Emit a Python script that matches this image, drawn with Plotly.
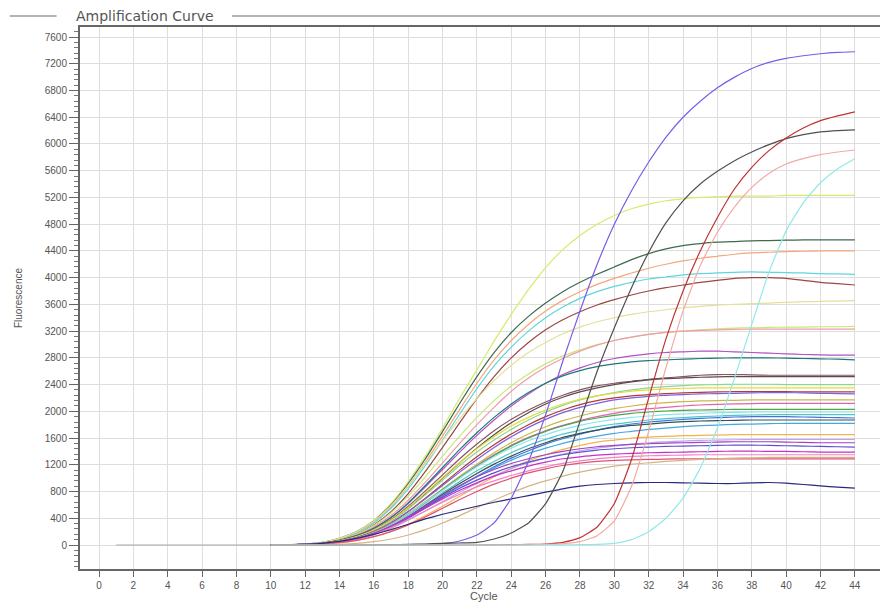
import plotly.graph_objects as go

# ---------------- data ----------------
cycles = [10, 11, 12, 13, 14, 15, 16, 17, 18, 19,
          20, 21, 22, 23, 24, 25, 26, 27, 28, 29,
          30, 31, 32, 33, 34, 35, 36, 37, 38, 39,
          40, 41, 42, 43, 44]
baseline_cycles = [1, 2, 3, 4, 5, 6, 7, 8, 9, 10]
baseline_values = [0, 0, 0, 0, 0, 0, 0, 0, 0, 0]

yellow_green = [0, 5, 15, 40, 100, 200, 370, 620, 950, 1330,
                1750, 2200, 2620, 3050, 3450, 3820, 4150, 4420, 4630, 4800,
                4930, 5030, 5100, 5150, 5180, 5200, 5210, 5220, 5220, 5220,
                5230, 5230, 5230, 5230, 5230]
dark_green = [0, 5, 15, 40, 100, 200, 360, 600, 920, 1290,
              1700, 2120, 2520, 2880, 3180, 3420, 3620, 3790, 3930, 4050,
              4160, 4270, 4360, 4430, 4480, 4510, 4530, 4540, 4550, 4555,
              4560, 4565, 4565, 4565, 4565]
light_orange = [0, 5, 15, 35, 90, 190, 340, 570, 880, 1240,
                1630, 2030, 2420, 2770, 3060, 3300, 3500, 3660, 3790, 3900,
                3990, 4070, 4140, 4200, 4250, 4290, 4320, 4350, 4370, 4380,
                4390, 4395, 4400, 4400, 4400]
cyan_a = [0, 5, 15, 35, 90, 180, 330, 550, 840, 1190,
          1570, 1960, 2340, 2680, 2960, 3200, 3400, 3560, 3690, 3790,
          3870, 3930, 3980, 4010, 4040, 4060, 4070, 4080, 4085, 4080,
          4075, 4070, 4060, 4055, 4050]
red_brown = [0, 5, 12, 30, 80, 160, 300, 500, 770, 1100,
             1460, 1830, 2190, 2520, 2800, 3030, 3220, 3370, 3490, 3590,
             3670, 3740, 3800, 3850, 3890, 3930, 3960, 3990, 4000, 4000,
             3990, 3960, 3930, 3910, 3890]
pale_yellow = [0, 5, 15, 40, 100, 200, 360, 590, 890, 1220,
               1560, 1890, 2190, 2460, 2690, 2880, 3030, 3160, 3260, 3340,
               3400, 3450, 3490, 3520, 3550, 3570, 3590, 3600, 3610, 3620,
               3630, 3640, 3645, 3650, 3655]
green_yellow = [0, 4, 12, 30, 80, 160, 290, 480, 730, 1020,
                1330, 1630, 1910, 2160, 2380, 2560, 2710, 2830, 2920, 3000,
                3060, 3110, 3150, 3180, 3200, 3220, 3235, 3245, 3250, 3255,
                3260, 3260, 3265, 3265, 3270]
pink_a = [0, 4, 12, 30, 75, 150, 270, 440, 670, 940,
          1230, 1520, 1800, 2060, 2300, 2500, 2660, 2790, 2900, 2990,
          3060, 3110, 3150, 3180, 3200, 3210, 3220, 3225, 3230, 3230,
          3230, 3230, 3230, 3230, 3230]
purple_magenta = [0, 4, 10, 28, 70, 140, 250, 410, 620, 870,
                  1130, 1390, 1640, 1870, 2080, 2260, 2420, 2550, 2650, 2730,
                  2790, 2830, 2860, 2880, 2890, 2900, 2900, 2890, 2880, 2870,
                  2860, 2850, 2845, 2840, 2840]
teal = [0, 4, 10, 28, 70, 140, 250, 410, 630, 890,
        1160, 1430, 1680, 1910, 2110, 2280, 2420, 2530, 2610, 2670,
        2710, 2740, 2760, 2770, 2780, 2790, 2795, 2800, 2800, 2800,
        2795, 2790, 2785, 2780, 2770]
mauve = [0, 4, 10, 25, 65, 130, 230, 380, 580, 810,
         1050, 1290, 1510, 1710, 1880, 2020, 2140, 2240, 2320, 2380,
         2420, 2450, 2480, 2500, 2520, 2540, 2550, 2550, 2545, 2540,
         2540, 2540, 2540, 2540, 2540]
dark_gray_brown = [0, 4, 10, 25, 60, 120, 220, 360, 550, 770,
                   1000, 1230, 1450, 1650, 1830, 1980, 2110, 2210, 2290, 2350,
                   2400, 2440, 2470, 2490, 2500, 2510, 2515, 2520, 2520, 2520,
                   2520, 2520, 2520, 2520, 2520]
light_green = [0, 4, 10, 25, 60, 120, 220, 360, 540, 750,
               970, 1190, 1390, 1570, 1730, 1870, 1990, 2090, 2170, 2230,
               2280, 2320, 2350, 2370, 2385, 2395, 2400, 2405, 2405, 2405,
               2400, 2400, 2400, 2400, 2400]
yellow_b = [0, 4, 10, 25, 62, 125, 225, 370, 560, 780,
            1010, 1230, 1440, 1620, 1780, 1910, 2020, 2110, 2180, 2230,
            2270, 2300, 2320, 2335, 2345, 2350, 2350, 2350, 2350, 2350,
            2350, 2350, 2350, 2350, 2350]
dark_red = [0, 3, 9, 22, 55, 110, 200, 330, 500, 700,
            910, 1120, 1320, 1500, 1660, 1800, 1920, 2020, 2100, 2160,
            2200, 2230, 2250, 2265, 2275, 2285, 2290, 2295, 2295, 2295,
            2295, 2290, 2290, 2290, 2290]
violet = [0, 3, 9, 22, 55, 110, 200, 330, 500, 690,
          890, 1090, 1280, 1460, 1620, 1760, 1880, 1980, 2060, 2120,
          2170, 2200, 2225, 2240, 2250, 2260, 2265, 2270, 2275, 2280,
          2280, 2275, 2270, 2265, 2260]
olive_b = [0, 3, 9, 22, 55, 105, 190, 310, 470, 650,
           840, 1030, 1210, 1380, 1530, 1660, 1770, 1860, 1930, 1990,
           2040, 2080, 2110, 2130, 2145, 2155, 2160, 2165, 2170, 2170,
           2170, 2170, 2170, 2170, 2170]
magenta_pink = [0, 3, 8, 20, 50, 100, 180, 300, 450, 630,
                820, 1010, 1190, 1350, 1490, 1610, 1710, 1790, 1860, 1920,
                1970, 2010, 2040, 2060, 2080, 2095, 2105, 2110, 2115, 2120,
                2120, 2120, 2120, 2120, 2120]
green_b = [0, 3, 8, 20, 50, 100, 180, 300, 460, 640,
           830, 1010, 1180, 1340, 1480, 1600, 1700, 1780, 1850, 1900,
           1940, 1970, 1990, 2005, 2015, 2020, 2025, 2030, 2030, 2030,
           2030, 2030, 2030, 2030, 2030]
light_cyan_a = [0, 3, 8, 20, 50, 100, 180, 300, 460, 640,
                820, 1000, 1170, 1320, 1450, 1560, 1650, 1730, 1790, 1840,
                1880, 1910, 1930, 1950, 1960, 1970, 1980, 1985, 1990, 1990,
                1990, 1990, 1990, 1990, 1990]
light_cyan_b = [0, 3, 8, 20, 48, 95, 170, 280, 430, 600,
                780, 950, 1110, 1250, 1380, 1490, 1580, 1660, 1720, 1770,
                1810, 1840, 1870, 1890, 1905, 1920, 1930, 1940, 1945, 1950,
                1950, 1950, 1950, 1950, 1950]
blue_a = [0, 3, 8, 20, 45, 90, 160, 260, 400, 560,
          720, 880, 1030, 1170, 1300, 1410, 1510, 1590, 1660, 1720,
          1770, 1810, 1840, 1860, 1880, 1895, 1905, 1915, 1920, 1920,
          1920, 1915, 1910, 1905, 1900]
dark_slate = [0, 3, 8, 20, 48, 95, 170, 280, 420, 590,
              760, 920, 1070, 1210, 1330, 1440, 1530, 1610, 1670, 1720,
              1760, 1790, 1810, 1830, 1845, 1855, 1860, 1865, 1870, 1870,
              1870, 1870, 1870, 1870, 1870]
sky = [0, 3, 8, 20, 48, 95, 170, 275, 410, 570,
       730, 880, 1020, 1150, 1270, 1370, 1450, 1520, 1580, 1630,
       1670, 1700, 1730, 1750, 1770, 1785, 1795, 1805, 1810, 1815,
       1820, 1820, 1820, 1820, 1820]
orange_b = [0, 2, 6, 15, 35, 70, 125, 205, 310, 440,
            580, 730, 880, 1020, 1150, 1260, 1350, 1430, 1490, 1540,
            1570, 1600, 1615, 1625, 1635, 1640, 1645, 1650, 1650, 1650,
            1650, 1650, 1650, 1650, 1650]
light_purple = [0, 3, 8, 18, 45, 88, 155, 250, 370, 510,
                650, 790, 920, 1040, 1140, 1230, 1300, 1360, 1410, 1450,
                1480, 1510, 1530, 1545, 1555, 1565, 1570, 1575, 1580, 1580,
                1580, 1580, 1580, 1580, 1580]
purple_b = [0, 3, 8, 20, 48, 95, 170, 280, 420, 580,
            740, 890, 1020, 1130, 1220, 1290, 1350, 1400, 1440, 1470,
            1490, 1505, 1515, 1525, 1530, 1535, 1540, 1545, 1545, 1545,
            1540, 1535, 1530, 1530, 1530]
blue_violet = [0, 3, 8, 20, 48, 95, 170, 280, 410, 560,
               710, 850, 970, 1080, 1170, 1240, 1300, 1350, 1390, 1420,
               1440, 1455, 1465, 1475, 1480, 1485, 1490, 1495, 1495, 1490,
               1485, 1480, 1475, 1470, 1465]
magenta = [0, 3, 8, 20, 48, 95, 170, 280, 410, 550,
           690, 820, 930, 1030, 1110, 1180, 1240, 1290, 1320, 1345,
           1360, 1370, 1380, 1385, 1390, 1395, 1400, 1405, 1405, 1400,
           1400, 1395, 1390, 1390, 1390]
pink_b = [0, 3, 8, 18, 45, 90, 160, 260, 380, 510,
          640, 760, 870, 960, 1040, 1110, 1170, 1220, 1260, 1290,
          1310, 1325, 1335, 1340, 1345, 1350, 1350, 1350, 1350, 1350,
          1350, 1350, 1350, 1350, 1350]
red_pink = [0, 2, 6, 15, 35, 70, 125, 200, 300, 420,
            550, 680, 800, 910, 1000, 1080, 1140, 1190, 1225, 1250,
            1265, 1275, 1280, 1285, 1290, 1290, 1290, 1290, 1290, 1290,
            1290, 1290, 1290, 1290, 1290]
tan = [0, 0, 2, 5, 12, 25, 50, 90, 150, 230,
       330, 440, 560, 670, 780, 880, 960, 1030, 1090, 1140,
       1180, 1210, 1230, 1250, 1265, 1280, 1290, 1300, 1305, 1310,
       1310, 1310, 1310, 1310, 1310]
navy = [0, 3, 10, 25, 55, 100, 160, 230, 310, 390,
        460, 520, 580, 640, 690, 740, 790, 840, 880, 905,
        920, 930, 935, 935, 930, 925, 920, 920, 930, 935,
        925, 905, 885, 865, 850]
late_purple = [0, 0, 0, 0, 0, 0, 0, 2, 5, 10,
               20, 60, 150, 330, 700, 1250, 1950, 2750, 3500, 4200,
               4800, 5300, 5730, 6100, 6400, 6640, 6840, 7000, 7130, 7220,
               7280, 7320, 7350, 7370, 7380]
late_gray = [0, 0, 0, 0, 0, 0, 2, 5, 10, 15,
             25, 30, 40, 90, 180, 330, 620, 1100, 1850, 2600,
             3250, 3850, 4380, 4820, 5150, 5400, 5590, 5750, 5880, 5990,
             6080, 6140, 6180, 6200, 6210]
late_red = [0, 0, 0, 0, 0, 0, 0, 0, 0, 0,
            0, 0, 0, 2, 5, 8, 15, 40, 110, 270,
            620, 1280, 2200, 3080, 3800, 4400, 4900, 5330, 5650, 5900,
            6090, 6240, 6350, 6420, 6480]
late_salmon = [0, 0, 0, 0, 0, 0, 0, 0, 0, 0,
               0, 0, 0, 0, 0, 2, 8, 20, 50, 140,
               360, 880, 1700, 2650, 3500, 4180, 4680, 5060, 5350, 5560,
               5700, 5780, 5840, 5880, 5910]
late_cyan = [0, 0, 0, 0, 0, 0, 0, 0, 0, 0,
             0, 0, 0, 0, 0, 0, 0, 2, 5, 10,
             25, 80, 200, 400, 700, 1150, 1750, 2500, 3300, 4080,
             4700, 5120, 5420, 5630, 5780]

series = [
    (yellow_green, "#d4ec6a"), (dark_green, "#3f6a4c"), (light_orange, "#f6a57c"),
    (cyan_a, "#5fd6de"), (red_brown, "#9c4646"), (pale_yellow, "#e4e098"),
    (green_yellow, "#c8e878"), (pink_a, "#f29aaa"), (purple_magenta, "#b452c8"),
    (teal, "#1f7878"), (mauve, "#8a5462"), (dark_gray_brown, "#5a4c4c"),
    (light_green, "#8ed68e"), (yellow_b, "#e2dc3c"), (dark_red, "#b23a3a"),
    (violet, "#7c60e0"), (olive_b, "#c8b84c"), (magenta_pink, "#e062b2"),
    (green_b, "#46a846"), (light_cyan_a, "#86e6f0"), (light_cyan_b, "#4ec6c8"),
    (blue_a, "#4272e0"), (dark_slate, "#2f5656"), (sky, "#42a8e0"),
    (orange_b, "#f0b450"), (light_purple, "#c2a2f0"), (purple_b, "#a042c2"),
    (blue_violet, "#6050d0"), (magenta, "#c432c4"), (pink_b, "#f282c4"),
    (red_pink, "#e05272"), (tan, "#d4b486"), (navy, "#2a2a7a"),
    (late_purple, "#7a5ce8"), (late_gray, "#505050"), (late_red, "#c03232"),
    (late_salmon, "#f2aaa2"), (late_cyan, "#92e8e8"),
]

x_ticks = [0, 2, 4, 6, 8, 10, 12, 14, 16, 18, 20, 22,
           24, 26, 28, 30, 32, 34, 36, 38, 40, 42, 44]
y_ticks = [0, 400, 800, 1200, 1600, 2000, 2400, 2800, 3200, 3600,
           4000, 4400, 4800, 5200, 5600, 6000, 6400, 6800, 7200, 7600]

# ---------------- figure ----------------
fig = go.Figure()
fig.add_trace(go.Scatter(x=baseline_cycles, y=baseline_values, mode="lines",
                         line=dict(color="#a8a8a8", width=1.2), hoverinfo="skip"))
for vals, col in series:
    fig.add_trace(go.Scatter(x=cycles, y=vals, mode="lines",
                             line=dict(color=col, width=1.2, shape="spline",
                                       smoothing=0.5),
                             hoverinfo="skip"))

axis_font = dict(family="Liberation Sans, Arial, sans-serif", size=10, color="#555555")

# page body has an 8px margin, so the figure is 8px smaller than the window
fig.update_layout(
    width=880, height=595,
    margin=dict(l=72, r=0, t=19, b=34, autoexpand=False),
    paper_bgcolor="white", plot_bgcolor="white",
    showlegend=False,
    xaxis=dict(range=[-1.106, 45.93], tickmode="array", tickvals=x_ticks,
               ticks="outside", ticklen=6, tickcolor="#666666", tickwidth=1,
               showline=True, linecolor="#666666", linewidth=2, mirror=True,
               showgrid=True, gridcolor="#dedede", gridwidth=1,
               zeroline=False, tickfont=axis_font, automargin=False),
    yaxis=dict(range=[-359, 7750], tickmode="array", tickvals=y_ticks,
               ticks="outside", ticklen=9, tickcolor="#666666", tickwidth=1,
               minor=dict(dtick=80, tick0=0, ticks="outside", ticklen=4,
                          tickcolor="#777777", showgrid=False),
               showline=True, linecolor="#666666", linewidth=2,
               showgrid=True, gridcolor="#dedede", gridwidth=1,
               zeroline=False, tickfont=axis_font, automargin=False),
    annotations=[
        dict(text="Amplification Curve", x=0.0804, y=1.0203, xref="paper", yref="paper",
             showarrow=False, xanchor="center", yanchor="middle",
             font=dict(family="DejaVu Sans, sans-serif", size=14, color="#555555")),
        dict(text="Cycle", x=0.5, y=-0.050, xref="paper", yref="paper",
             showarrow=False, xanchor="center", yanchor="middle",
             font=dict(family="Liberation Sans, Arial, sans-serif", size=11, color="#555555")),
        dict(text="Fluorescence", x=-0.0767, y=0.5, xref="paper", yref="paper",
             showarrow=False, xanchor="center", yanchor="middle", textangle=-90,
             font=dict(family="Liberation Sans, Arial, sans-serif", size=10, color="#555555")),
    ],
    shapes=[
        dict(type="line", xref="paper", yref="paper", x0=-0.087, x1=-0.029,
             y0=1.0203, y1=1.0203, line=dict(color="#9a9a9a", width=1.5)),
        dict(type="line", xref="paper", yref="paper", x0=0.188, x1=1.0,
             y0=1.0203, y1=1.0203, line=dict(color="#9a9a9a", width=1.5)),
    ],
)

fig.write_html("out.html")
